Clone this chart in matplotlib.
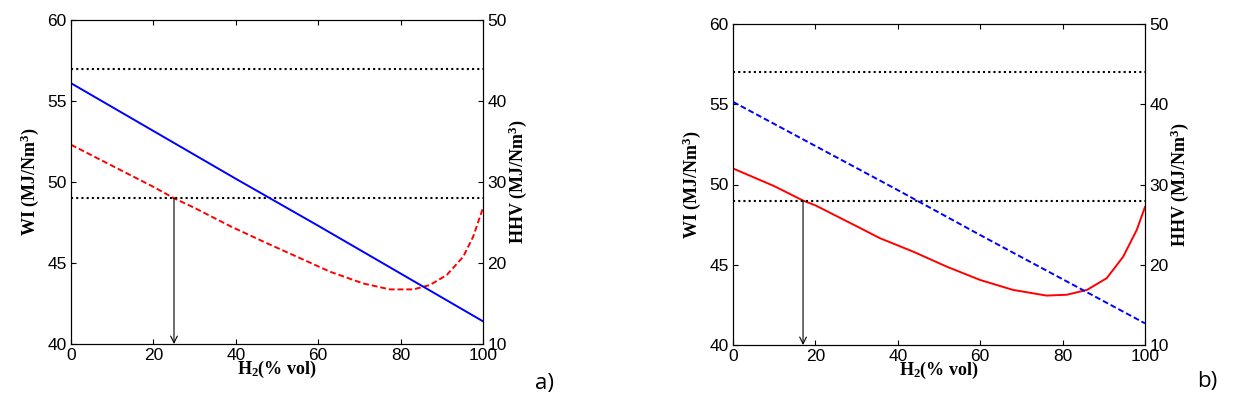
import matplotlib
matplotlib.use("Agg")
import matplotlib.pyplot as plt

# H2 fraction (% vol) where the curves were read
h2_wi_a = [0, 10, 20, 25, 30, 38.6, 46.7, 54.8, 62.9, 70.9, 77.4, 83.1, 87.1, 91.2, 95.2, 97.6, 100]
wi_a = [52.3, 51.0, 49.7, 49.0, 48.4, 47.28, 46.32, 45.39, 44.46, 43.74, 43.37, 43.37, 43.64, 44.26, 45.39, 46.62, 48.4]

h2_wi_b = [0, 10, 17, 20, 30, 35.7, 43.8, 51.9, 60, 68, 76.1, 81, 85.9, 90.7, 94.7, 98, 100]
wi_b = [51.0, 49.9, 49.0, 48.7, 47.4, 46.65, 45.81, 44.88, 44.05, 43.43, 43.08, 43.13, 43.43, 44.16, 45.5, 47.17, 48.6]

h2_hhv = [0, 20, 40, 60, 80, 100]
hhv_a = [42.2, 36.3, 30.4, 24.6, 18.7, 12.8]
hhv_b = [40.3, 34.8, 29.3, 23.7, 18.2, 12.7]

wi_limits = [57, 49]
arrow_x = [25, 17]
panel_tags = ["a)", "b)"]

plt.rcParams["mathtext.fontset"] = "custom"
plt.rcParams["mathtext.rm"] = "Liberation Serif:bold"
plt.rcParams["mathtext.it"] = "Liberation Serif:bold"
plt.rcParams["mathtext.bf"] = "Liberation Serif:bold"
plt.rcParams["font.family"] = "Liberation Sans"
plt.rcParams["font.size"] = 12

fig = plt.figure(figsize=(12.37, 3.99), dpi=100)

positions = [[71 / 1237, 55 / 399, 412 / 1237, 324 / 399],
             [733 / 1237, 54 / 399, 412 / 1237, 321 / 399]]
label_font = dict(family="Liberation Serif", weight="bold", size=13)


def draw_panel(pos, x_wi, wi, wi_style, hhv, hhv_style, ax_arrow, tag, tag_xy):
    ax = fig.add_axes(pos)
    ax2 = ax.twinx()

    ax.plot(x_wi, wi, color="red", lw=1.4, linestyle=wi_style)
    ax2.plot(h2_hhv, hhv, color="blue", lw=1.4, linestyle=hhv_style)
    for lim in wi_limits:
        ax.axhline(lim, color="black", lw=1.5, linestyle=(0, (1, 1.5)))
    ax.annotate("", xy=(ax_arrow, 40), xytext=(ax_arrow, 49),
                arrowprops=dict(arrowstyle="->", color="black", lw=0.8,
                                shrinkA=0, shrinkB=0))

    ax.set_xlim(0, 100)
    ax.set_ylim(40, 60)
    ax2.set_ylim(10, 50)
    ax.set_xticks(range(0, 101, 20))
    ax.set_yticks(range(40, 61, 5))
    ax2.set_yticks(range(10, 51, 10))
    ax.tick_params(direction="in", top=True, pad=3, labelsize=12.5)
    ax2.tick_params(direction="in", pad=3, labelsize=12.5)

    ax.text(0.5, -0.08, r"H$_2$(% vol)", transform=ax.transAxes,
            ha="center", va="center", **label_font)
    ax.text(-0.1, 0.5, r"WI (MJ/Nm$^3$)", transform=ax.transAxes,
            ha="center", va="center", rotation=90, **label_font)
    ax2.text(1.085, 0.5, r"HHV (MJ/Nm$^3$)", transform=ax2.transAxes,
             ha="center", va="center", rotation=90, **label_font)
    fig.text(tag_xy[0], tag_xy[1], tag, family="Open Sans", size=16,
             ha="center", va="center")


draw_panel(positions[0], h2_wi_a, wi_a, (0, (3, 1.5)), hhv_a, "-",
           arrow_x[0], panel_tags[0], (545 / 1237, 1 - 383 / 399))
draw_panel(positions[1], h2_wi_b, wi_b, "-", hhv_b, (0, (3, 1.5)),
           arrow_x[1], panel_tags[1], (1207 / 1237, 1 - 382 / 399))

fig.savefig("out.png", dpi=100)
